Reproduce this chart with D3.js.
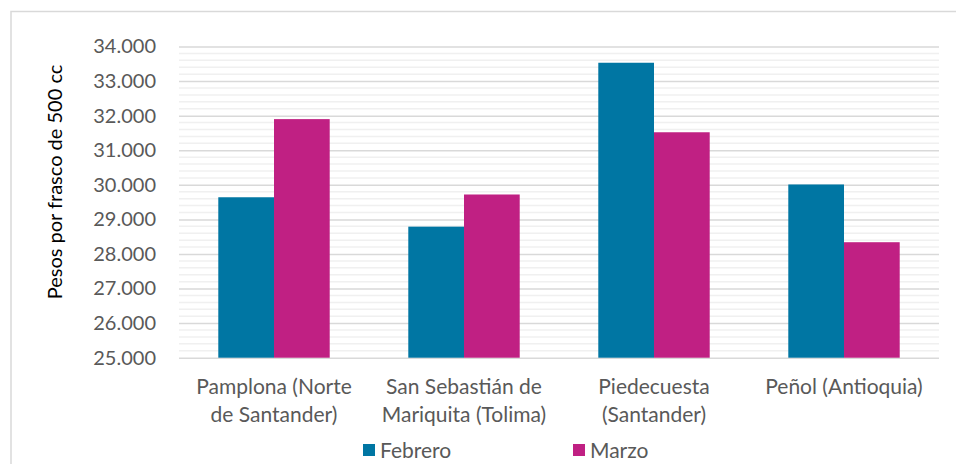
<!DOCTYPE html>
<html>
<head>
<meta charset="utf-8">
<script src="https://cdn.jsdelivr.net/npm/d3@7"></script>
<style>
  body { margin: 0; background: #fff; }
  svg { display: block; font-family: Lato, "Open Sans", sans-serif; }
</style>
</head>
<body>
<div id="chart"></div>
<script>
// DATA
var categories = [
  ["Pamplona (Norte", "de Santander)"],
  ["San Sebastián de", "Mariquita (Tolima)"],
  ["Piedecuesta", "(Santander)"],
  ["Peñol (Antioquia)"]
];
var seriesNames = ["Febrero", "Marzo"];
var febrero = [29640, 28790, 33530, 30010];
var marzo = [31900, 29720, 31520, 28340];
var yTicks = [25000, 26000, 27000, 28000, 29000, 30000, 31000, 32000, 33000, 34000];
var yLabel = "Pesos por frasco de 500 cc";

var colors = ["#0076A3", "#C02083"];

var width = 956, height = 464;
var plotLeft = 179, plotRight = 939, plotTop = 46.5, plotBottom = 357.7;

var svg = d3.select("#chart").append("svg")
  .attr("width", width)
  .attr("height", height);

// chart border (goes off the right and bottom edges)
svg.append("rect")
  .attr("x", 11).attr("y", 11.5)
  .attr("width", 1000).attr("height", 500)
  .attr("fill", "none")
  .attr("stroke", "#d9d9d9")
  .attr("stroke-width", 1.5);

var x0 = d3.scaleBand()
  .domain(d3.range(categories.length))
  .range([plotLeft, plotRight])
  .padding(0);

var x1 = d3.scaleBand()
  .domain(seriesNames)
  .range([x0.bandwidth() * 0.2068, x0.bandwidth() * 0.7932])
  .padding(0);

var y = d3.scaleLinear()
  .domain([25000, 34000])
  .range([plotBottom, plotTop]);

// minor gridlines every 200
var minor = d3.range(25200, 34000, 200).filter(function(v) { return v % 1000 !== 0; });
svg.append("g").selectAll("line")
  .data(minor)
  .enter().append("line")
  .attr("x1", plotLeft).attr("x2", plotRight)
  .attr("y1", function(d) { return y(d); })
  .attr("y2", function(d) { return y(d); })
  .attr("stroke", "#f0f0f0")
  .attr("stroke-width", 1.5);

// major gridlines + tick labels
var yAxis = d3.axisLeft(y)
  .tickValues(yTicks)
  .tickSize(-(plotRight - plotLeft))
  .tickPadding(23)
  .tickFormat(function(d) { return d3.format(",")(d).replace(",", "."); });

var gy = svg.append("g")
  .attr("transform", "translate(" + plotLeft + ",0)")
  .call(yAxis);
gy.select(".domain").remove();
gy.selectAll(".tick line")
  .attr("stroke", "#d9d9d9")
  .attr("stroke-width", 1.5);
gy.selectAll(".tick text")
  .attr("fill", "#595959")
  .attr("font-size", "20px")
  .style("font-family", "Lato, sans-serif");

// bars
var rows = categories.map(function(c, i) {
  return [{ s: "Febrero", v: febrero[i] }, { s: "Marzo", v: marzo[i] }];
});

var groups = svg.append("g").selectAll("g")
  .data(rows)
  .enter().append("g")
  .attr("transform", function(d, i) { return "translate(" + x0(i) + ",0)"; });

groups.selectAll("rect")
  .data(function(d) { return d; })
  .enter().append("rect")
  .attr("x", function(d) { return x1(d.s); })
  .attr("y", function(d) { return y(d.v); })
  .attr("width", x1.bandwidth())
  .attr("height", function(d) { return y(25000) - y(d.v); })
  .attr("fill", function(d, i) { return colors[i]; });

// category labels
var cat = svg.append("g").selectAll("text")
  .data(categories)
  .enter().append("text")
  .attr("x", function(d, i) { return x0(i) + x0.bandwidth() / 2; })
  .attr("y", 394)
  .attr("text-anchor", "middle")
  .attr("fill", "#595959")
  .attr("font-size", "21px");

cat.selectAll("tspan")
  .data(function(d) { return d; })
  .enter().append("tspan")
  .attr("x", function() { return d3.select(this.parentNode).attr("x"); })
  .attr("dy", function(d, i) { return i === 0 ? 0 : 28; })
  .text(function(d) { return d; });

// y axis title
svg.append("text")
  .attr("transform", "translate(62," + 182 + ") rotate(-90)")
  .attr("text-anchor", "middle")
  .attr("fill", "#000")
  .attr("font-size", "20px")
  .text(yLabel);

// legend
var legendX = [363, 573];
var legend = svg.append("g").selectAll("g")
  .data(seriesNames)
  .enter().append("g")
  .attr("transform", function(d, i) { return "translate(" + legendX[i] + ",444)"; });

legend.append("rect")
  .attr("width", 12).attr("height", 12)
  .attr("fill", function(d, i) { return colors[i]; });

legend.append("text")
  .attr("x", 17).attr("y", 14)
  .attr("fill", "#595959")
  .attr("font-size", "21px")
  .text(function(d) { return d; });
</script>
</body>
</html>
